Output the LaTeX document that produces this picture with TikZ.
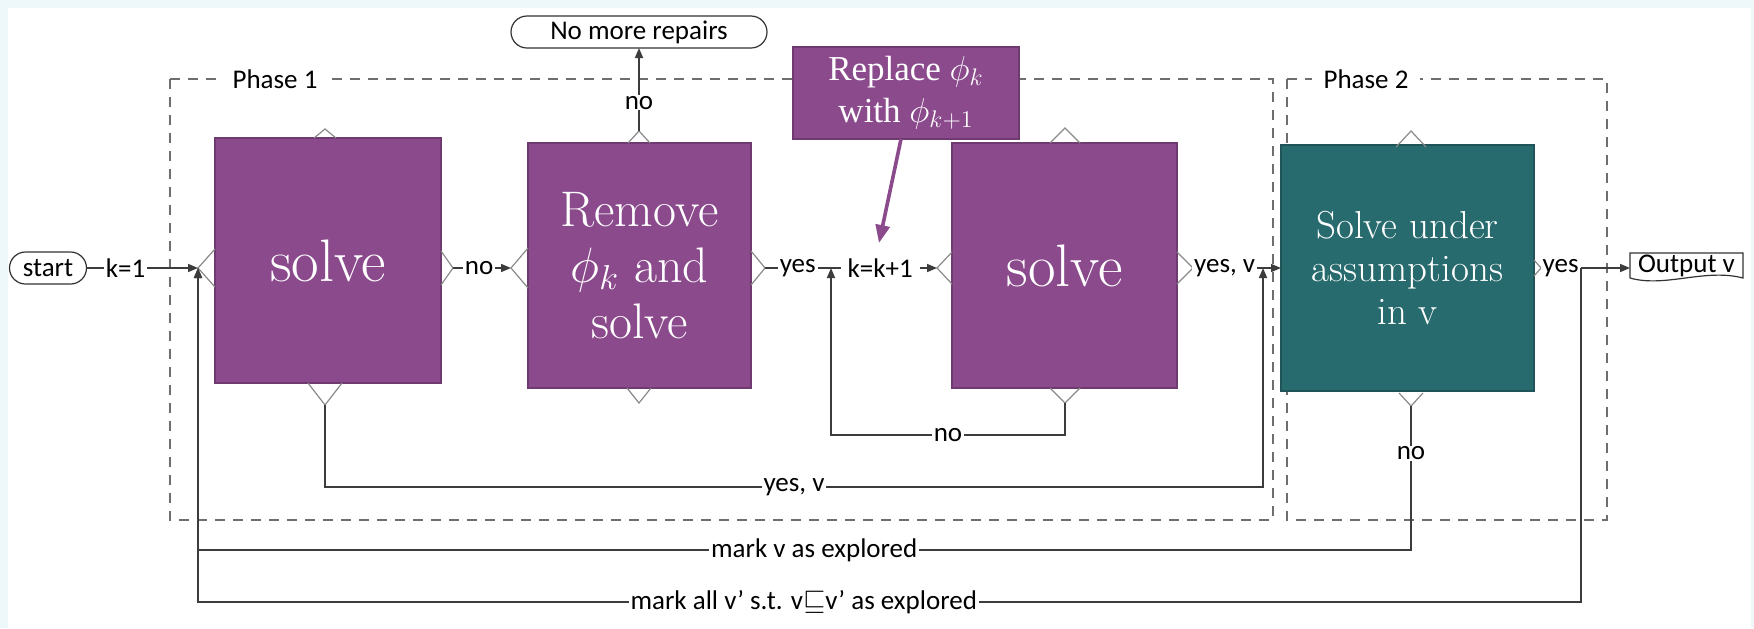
\documentclass[tikz,border=0pt]{standalone}
\usepackage{fontspec}
\newfontfamily\lblfont{Carlito}
\newfontfamily\repfont{Liberation Serif}
\usetikzlibrary{arrows.meta,calc}

\definecolor{pagebg}{HTML}{EEF7FA}
\definecolor{plumfill}{HTML}{8A4A8C}
\definecolor{plumedge}{HTML}{6E3A70}
\definecolor{tealfill}{HTML}{276B6E}
\definecolor{tealedge}{HTML}{1F5558}
\definecolor{wirecol}{HTML}{3C3C3C}
\definecolor{phasecol}{HTML}{6E6E6E}
\definecolor{tabcol}{HTML}{8A8A8A}

\newcommand\lblsize{\fontsize{13.5}{15.5}\selectfont}

\begin{document}
\begin{tikzpicture}[x=0.5pt,y=-0.5pt,
  every node/.style={inner sep=0pt, outer sep=0pt},
  plumbox/.style={fill=plumfill, draw=plumedge, line width=0.6pt, text=white, align=center},
  tealbox/.style={fill=tealfill, draw=tealedge, line width=0.6pt, text=white, align=center},
  term/.style={draw=black!80, line width=0.6pt, rounded corners=8pt, fill=white,
    font=\lblfont\lblsize, minimum height=16pt},
  lbl/.style={fill=white, font=\lblfont\lblsize, inner xsep=1pt, inner ysep=0.5pt},
  wire/.style={draw=wirecol, line width=0.8pt},
  arr/.style={wire, -{Triangle[length=5pt,width=4pt]}},
  phasebox/.style={draw=phasecol, line width=1pt, dash pattern=on 5pt off 4pt},
  tab/.style={draw=tabcol, line width=0.6pt},
]
\useasboundingbox (0,0) rectangle (1754,628);
\fill[pagebg] (0,0) rectangle (1754,628);
\fill[white] (8,8) rectangle (1751,628);

% phase frames
\draw[phasebox] (170,79) rectangle (1273,520);
\draw[phasebox] (1287,79) rectangle (1607,520);
\node[lbl, inner xsep=6pt] (ph1) at (275,79) {Phase 1};
\node[lbl, inner xsep=6pt] (ph2) at (1366,79) {Phase 2};

% terminals and process boxes
\node[term, minimum width=38.5pt] (start) at (48,268) {start};
\node[term, minimum width=128pt] (nmr) at (639,32) {No more repairs};
\node[plumbox, minimum width=113pt, minimum height=122.5pt,
  font=\fontsize{30}{36}\selectfont] (s1) at (328,260.5) {solve};
\node[plumbox, minimum width=111.5pt, minimum height=122.5pt,
  font=\fontsize{25}{28}\selectfont] (rm) at (639.5,265.5) {Remove\\$\phi_k$ and\\solve};
\node[plumbox, minimum width=112.5pt, minimum height=122.5pt,
  font=\fontsize{30}{36}\selectfont] (s2) at (1064.5,265.5) {solve};
\node[tealbox, minimum width=126.5pt, minimum height=123pt,
  font=\fontsize{19.5}{21.5}\selectfont] (tl) at (1407.5,268) {Solve under\\assumptions\\in v};
\node[font=\lblfont\lblsize, minimum width=56.5pt, minimum height=12.5pt] (out) at (1686.5,265.5) {Output v};
\draw[draw=black!80, line width=0.6pt] (out.south west) -- (out.north west) -- (out.north east) -- (out.south east)
  .. controls ($(out.south east)+(-38,-10)$) and ($(out.south west)+(35,10)$) .. (out.south west);

% connection tips on the box sides
\coordinate (s1w) at (198,268);  \coordinate (s1e) at (453,268);
\coordinate (s1n) at (325,129);  \coordinate (s1s) at (325,405);
\coordinate (rmw) at (511,268);  \coordinate (rme) at (765,268);
\coordinate (rmn) at (639,131);  \coordinate (rms) at (639,403);
\coordinate (s2w) at (937,268);  \coordinate (s2e) at (1193,268);
\coordinate (s2n) at (1065,128); \coordinate (s2s) at (1065,403);
\coordinate (tle) at (1541,268);
\coordinate (tln) at (1411,131); \coordinate (tls) at (1411,406);

\draw[tab] (215,249) -- (s1w) -- (215,287);
\draw[tab] (441,251) -- (s1e) -- (441,285);
\draw[tab] (314,138) -- (s1n) -- (336,138);
\draw[tab] (308,383) -- (s1s) -- (342,383);
\draw[tab] (528,248) -- (rmw) -- (528,288);
\draw[tab] (751,251) -- (rme) -- (751,285);
\draw[tab] (628,143) -- (rmn) -- (650,143);
\draw[tab] (627,388) -- (rms) -- (651,388);
\draw[tab] (952,252) -- (s2w) -- (952,284);
\draw[tab] (1177,252) -- (s2e) -- (1177,284);
\draw[tab] (1050,143) -- (s2n) -- (1080,143);
\draw[tab] (1050,388) -- (s2s) -- (1080,388);
\draw[tab] (1534,260) -- (tle) -- (1534,276);
\draw[tab] (1396,147) -- (tln) -- (1426,147);
\draw[tab] (1399,393) -- (tls) -- (1423,393);

% junctions where return lines meet
\coordinate (j1) at (198,268);
\coordinate (j2) at (831,268);
\coordinate (j3) at (1263,268);
\coordinate (j4) at (1581,268);

% connectors
\draw[arr] (start) -- node[lbl, pos=0.35] {k=1} (s1w);
\draw[arr] (s1e) -- node[lbl, pos=0.45] {no} (rmw);
\draw[arr] (rmn) -- node[lbl, pos=0.34] {no} (nmr);
\draw[arr] (rme) -- node[lbl, pos=0.19] {yes} node[lbl, pos=0.67, inner xsep=3.5pt] {k=k+1} (s2w);
\draw[arr] (s2s) -- ++(0,32) -| node[lbl, pos=0.25] {no} (j2);
\draw[arr] (s2e) -- node[lbl, pos=0.36] {yes, v} (tl.west |- s2e);
\draw[arr] (s1s) -- ++(0,82) -| node[lbl, pos=0.25] {yes, v} (j3);
\draw[arr] (tls) -- node[lbl, pos=0.33] {no} ++(0,144) -| node[lbl, pos=0.246] {mark v as explored} (j1);
\draw[arr] (tle) -- node[lbl, pos=0.22] {yes} (out.west |- tle);
\draw[arr] (j4) -- ++(0,334) -| node[lbl, pos=0.281] {mark all v’ s.t. v$\sqsubseteq$v’ as explored} (j1);

% note box with its pointer
\node[plumbox, minimum width=113pt, minimum height=46pt,
  font=\repfont\fontsize{17.5}{21}\selectfont] (rep) at (906,93) {Replace $\phi_k$\\with $\phi_{k+1}$};
\coordinate (kk) at (879,243);
\draw[plumfill, line width=1.8pt, -{Triangle[length=9pt,width=7pt]}] (rep.south) ++(-5,0) -- (kk);
\end{tikzpicture}
\end{document}
